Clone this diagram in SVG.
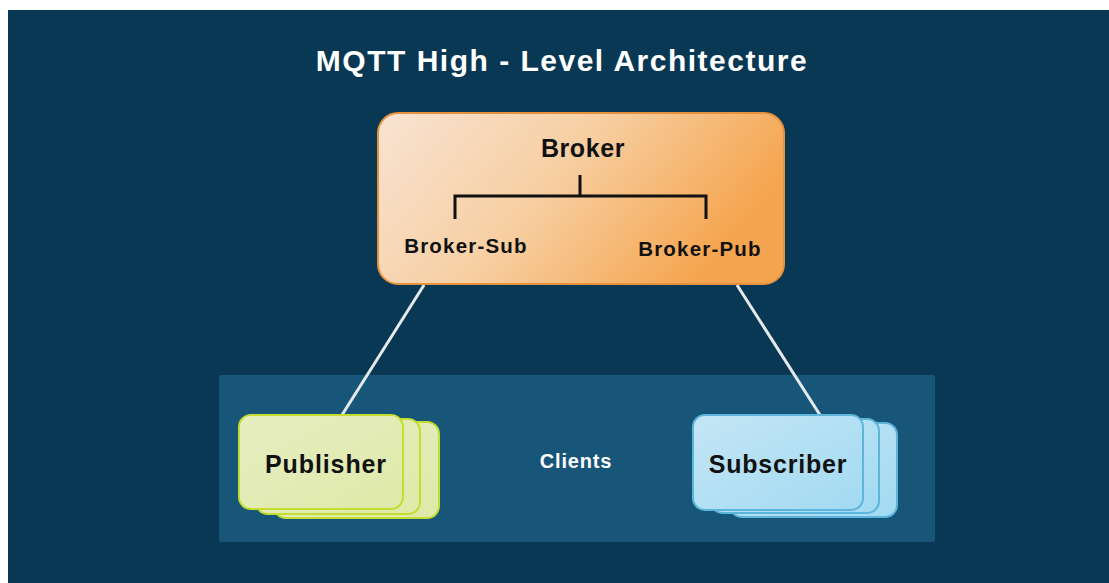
<svg xmlns="http://www.w3.org/2000/svg" width="1109" height="583" viewBox="0 0 1109 583">
  <style>
    .lbl { font-family: "Liberation Sans", Arial, sans-serif; font-weight: bold; text-anchor: middle; }
    .dark { fill: #111111; }
    .light { fill: #ffffff; }
    .link { stroke: #e4eaee; stroke-width: 3; fill: none; }
    .pub { fill: url(#pubFill); stroke: #c5dd2e; stroke-width: 2; }
    .sub { fill: url(#subFill); stroke: #5cb6dc; stroke-width: 2; }
  </style>
  <defs>
    <linearGradient id="brokerFill" x1="0" y1="0" x2="1" y2="0.35">
      <stop offset="0" stop-color="#f8e3d3"/>
      <stop offset="0.5" stop-color="#f7cfa2"/>
      <stop offset="1" stop-color="#f5a54f"/>
    </linearGradient>
    <linearGradient id="pubFill" x1="0" y1="0" x2="1" y2="1">
      <stop offset="0" stop-color="#e6eec2"/>
      <stop offset="1" stop-color="#dfe9a8"/>
    </linearGradient>
    <linearGradient id="subFill" x1="0" y1="0" x2="1" y2="1">
      <stop offset="0" stop-color="#c4e6f5"/>
      <stop offset="1" stop-color="#a2daf2"/>
    </linearGradient>
  </defs>

  <!-- page background -->
  <rect x="0" y="0" width="1109" height="583" fill="#ffffff"/>
  <rect x="8" y="10" width="1101" height="573" fill="#083853"/>

  <!-- title -->
  <text class="lbl light" x="562" y="71" font-size="30" letter-spacing="1.5">MQTT High - Level Architecture</text>

  <!-- clients area -->
  <g id="clients">
    <rect x="219" y="375" width="716" height="167" rx="2" fill="#185679"/>
    <text class="lbl light" x="576" y="468" font-size="20" letter-spacing="0.8">Clients</text>
  </g>

  <!-- connectors -->
  <g id="connectors">
    <line class="link" x1="424" y1="285" x2="342" y2="415"/>
    <line class="link" x1="737" y1="285" x2="820" y2="415"/>
  </g>

  <!-- broker -->
  <g id="broker">
    <rect x="378" y="113" width="406" height="171" rx="20" fill="url(#brokerFill)" stroke="#e6913c" stroke-width="2"/>
    <text class="lbl dark" x="583" y="157" font-size="25" letter-spacing="0.6">Broker</text>
    <path d="M580 175 V196 M455 219 V196 H706 V219" fill="none" stroke="#111111" stroke-width="3"/>
    <text class="lbl dark" x="466" y="253" font-size="20.5" letter-spacing="1.2">Broker-Sub</text>
    <text class="lbl dark" x="700" y="256" font-size="20.5" letter-spacing="1.2">Broker-Pub</text>
  </g>

  <!-- publisher stack -->
  <g id="publisher">
    <rect class="pub" x="274" y="422" width="165" height="96" rx="12"/>
    <rect class="pub" x="256" y="419" width="164" height="95" rx="12"/>
    <rect class="pub" x="239" y="415" width="164" height="94" rx="12"/>
    <text class="lbl dark" x="326" y="473" font-size="25" letter-spacing="0.9">Publisher</text>
  </g>

  <!-- subscriber stack -->
  <g id="subscriber">
    <rect class="sub" x="730" y="423" width="167" height="94" rx="12"/>
    <rect class="sub" x="711" y="419" width="168" height="94" rx="12"/>
    <rect class="sub" x="693" y="415" width="170" height="95" rx="12"/>
    <text class="lbl dark" x="778" y="473" font-size="25" letter-spacing="0.8">Subscriber</text>
  </g>
</svg>
